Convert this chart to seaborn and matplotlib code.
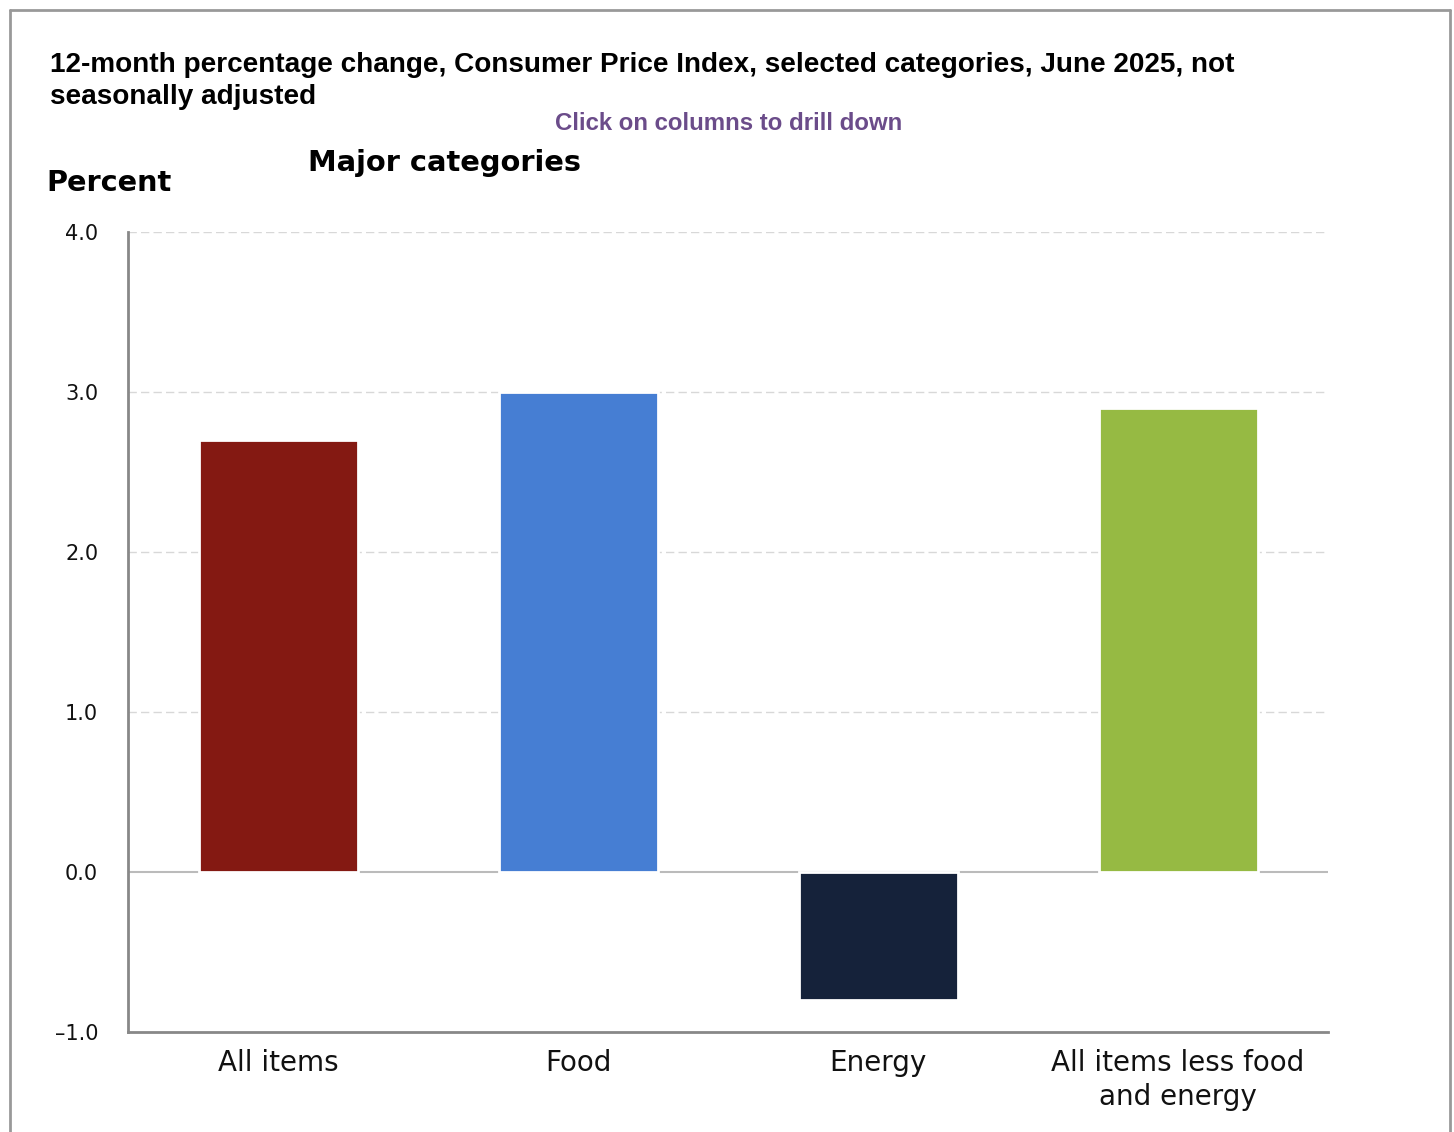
import matplotlib
matplotlib.use("Agg")
import matplotlib.pyplot as plt
import seaborn as sns
import pandas as pd
from matplotlib.lines import Line2D

# --------------------------
# Data
# --------------------------
categories = ["All items", "Food", "Energy", "All items less food\nand energy"]
values = [2.7, 3.0, -0.8, 2.9]
bar_colors = ["#841912", "#467ED3", "#15223A", "#96BA43"]
y_ticks = [-1.0, 0.0, 1.0, 2.0, 3.0, 4.0]

df = pd.DataFrame({"Category": categories, "Percent": values})

# --------------------------
# Figure
# --------------------------
sns.set_style("white")
fig = plt.figure(figsize=(14.54, 11.32), dpi=100)
ax = fig.add_axes([128 / 1454, 1 - 1032 / 1132, 1200 / 1454, 800 / 1132])

# grid and zero line underneath bars
for t in y_ticks:
    if t == 0.0:
        ax.axhline(t, color="#BBBBBB", lw=1.5, zorder=1)
    elif t != -1.0:
        ax.axhline(t, color="#D8D8D8", lw=1, ls=(0, (6, 3)), zorder=1)

sns.barplot(data=df, x="Category", y="Percent", hue="Category",
            palette=bar_colors, legend=False, width=0.53,
            edgecolor="white", linewidth=2, saturation=1, ax=ax, zorder=2)

ax.set_xlim(-0.5, 3.5)
ax.set_ylim(-1.0, 4.0)
ax.set_yticks(y_ticks)
ax.set_yticklabels([f"{t:.1f}".replace("-", "\u2013") for t in y_ticks])
ax.set_xlabel("")
ax.set_ylabel("")

for side in ["top", "right"]:
    ax.spines[side].set_visible(False)
for side in ["left", "bottom"]:
    ax.spines[side].set_color("#888888")
    ax.spines[side].set_linewidth(2)

ax.tick_params(axis="y", length=0, pad=21.5, labelsize=15, labelcolor="#111111")
ax.tick_params(axis="x", length=0, pad=12, labelsize=20, labelcolor="#111111")
for lab in ax.get_yticklabels() + ax.get_xticklabels():
    lab.set_fontfamily("DejaVu Sans")
    lab.set_linespacing(1.3)

# --------------------------
# Titles
# --------------------------
fig.text(50 / 1454, 1 - 81 / 1132,
         "12-month percentage change, Consumer Price Index, selected categories, June 2025, not\nseasonally adjusted",
         fontsize=20.1, fontweight="bold", family="Liberation Sans",
         ha="left", va="center", linespacing=1.35, color="black")
fig.text(729 / 1454, 1 - 124 / 1132, "Click on columns to drill down",
         fontsize=17.3, fontweight="bold", family="Liberation Sans",
         ha="center", va="center", color="#6B4C8A")
fig.text(308 / 1454, 1 - 163 / 1132, "Major categories",
         fontsize=20.8, fontweight="bold", family="DejaVu Sans",
         ha="left", va="center", color="black")
fig.text(46 / 1454, 1 - 183 / 1132, "Percent",
         fontsize=20.7, fontweight="bold", family="DejaVu Sans",
         ha="left", va="center", color="black")

# outer frame
frame_kw = dict(color="#999999", lw=2, transform=fig.transFigure)
fig.add_artist(Line2D([10 / 1454, 10 / 1454], [0, 1 - 10 / 1132], **frame_kw))
fig.add_artist(Line2D([10 / 1454, 1450 / 1454], [1 - 10 / 1132, 1 - 10 / 1132], **frame_kw))
fig.add_artist(Line2D([1450 / 1454, 1450 / 1454], [0, 1 - 10 / 1132], **frame_kw))

fig.savefig("out.png", dpi=100)
plt.close(fig)
